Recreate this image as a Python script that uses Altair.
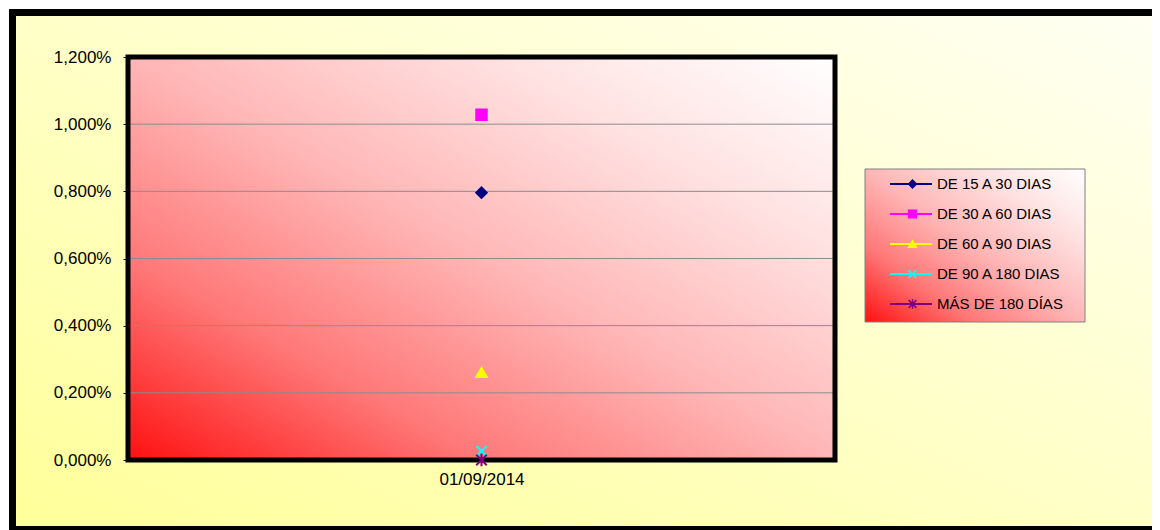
import altair as alt
import pandas as pd

# ---- data ----
SERIES = ["DE 15 A 30 DIAS", "DE 30 A 60 DIAS", "DE 60 A 90 DIAS", "DE 90 A 180 DIAS", "MÁS DE 180 DÍAS"]
VALUES = [0.00796, 0.01028, 0.00261, 0.00027, 0.0]
DATES = ["01/09/2014"] * 5
COLORS = ["#000080", "#FF00FF", "#FFFF00", "#00FFFF", "#800080"]
SHAPES = ["diamond", "square", "triangle-up",
          "M-1,-1L1,1M-1,1L1,-1",
          "M-1,-1L1,1M-1,1L1,-1M0,-1.2L0,1.2"]
Y_TICKS = [0.0, 0.002, 0.004, 0.006, 0.008, 0.010, 0.012]

W, H = 707, 403
FONT = "Liberation Sans"

df = pd.DataFrame({"fecha": DATES, "serie": SERIES, "serie2": SERIES, "valor": VALUES})
ticks_df = pd.DataFrame({"v": Y_TICKS})
one = pd.DataFrame({"a": [0]})


def grad(stops):
    return alt.LinearGradient(
        gradient="linear",
        stops=[alt.GradientStop(color=c, offset=o) for o, c in stops],
        x1=0, y1=1, x2=1, y2=0,
    )


RED_STOPS = [(0, "#FF1010"), (0.25, "#FF7878"), (0.5, "#FFB6B6"), (0.75, "#FFE0E0"), (1, "#FFFFFF")]
YELLOW_STOPS = [(0, "#FFFF99"), (0.5, "#FFFFC8"), (1, "#FFFFF4")]

yscale = alt.Scale(domain=[0, 0.012], nice=False)

# outer chart-area background with border
outer = alt.Chart(one).mark_rect(fill=grad(YELLOW_STOPS), stroke="black", strokeWidth=7).encode(
    x=alt.value(-115.5), x2=alt.value(1045), y=alt.value(-44.5), y2=alt.value(472.5)
)

# plot-area gradient
plotbg = alt.Chart(one).mark_rect(fill=grad(RED_STOPS)).encode(
    x=alt.value(0), x2=alt.value(W), y=alt.value(0), y2=alt.value(H)
)

grid = alt.Chart(ticks_df).mark_rule(color="#8C8C8C", strokeWidth=1).encode(
    y=alt.Y("v:Q", scale=yscale,
            axis=alt.Axis(values=Y_TICKS, grid=False, domain=False, ticks=True, tickSize=5,
                          tickColor="black", labelPadding=12, labelFont=FONT, labelFontSize=17,
                          labelColor="black", title=None, zindex=1,
                          labelExpr="replace(format(datum.value, '.3%'), '.', ',')")),
    x=alt.value(0), x2=alt.value(W),
)

border = alt.Chart(one).mark_rect(fill="transparent", stroke="black", strokeWidth=5).encode(
    x=alt.value(0), x2=alt.value(W), y=alt.value(0), y2=alt.value(H)
)

legend_box = alt.Chart(one).mark_rect(fill=grad(RED_STOPS), stroke="#808080", strokeWidth=1).encode(
    x=alt.value(737), x2=alt.value(957), y=alt.value(112), y2=alt.value(265)
)

xaxis = alt.Axis(title=None, labelAngle=0, domain=False, ticks=False, labelPadding=11,
                 labelFont=FONT, labelFontSize=17, labelColor="black", zindex=1)

# invisible lines (one point each) -> line legend with labels
lines = alt.Chart(df).mark_line(strokeWidth=2).encode(
    x=alt.X("fecha:N", axis=xaxis),
    y=alt.Y("valor:Q", scale=yscale),
    color=alt.Color("serie2:N", sort=SERIES, scale=alt.Scale(range=COLORS),
                    legend=alt.Legend(title=None, orient="none", legendX=761, legendY=112,
                                      symbolType="stroke", symbolSize=1764, symbolStrokeWidth=2,
                                      clipHeight=30, rowPadding=0, padding=0, labelOffset=4,
                                      labelFont=FONT, labelFontSize=15, labelColor="black")),
)

marker_legend = alt.Legend(title=None, orient="none", legendX=777, legendY=112,
                           symbolSize=60, symbolStrokeWidth=1.5, clipHeight=30, rowPadding=0,
                           padding=0, labelExpr="''", labelFontSize=15, labelFont=FONT)

points = alt.Chart(df).mark_point(filled=True, size=110, strokeWidth=2, opacity=1).encode(
    x=alt.X("fecha:N", axis=xaxis),
    y=alt.Y("valor:Q", scale=yscale),
    fill=alt.Fill("serie:N", scale=alt.Scale(domain=SERIES, range=COLORS), legend=marker_legend),
    stroke=alt.Stroke("serie:N", scale=alt.Scale(domain=SERIES, range=COLORS), legend=marker_legend),
    shape=alt.Shape("serie:N", scale=alt.Scale(domain=SERIES, range=SHAPES), legend=marker_legend),
)

chart = alt.layer(outer, plotbg, grid, border, legend_box, lines, points).properties(
    width=W, height=H,
    padding={"left": 120, "top": 49, "right": 317, "bottom": 70},
    autosize=alt.AutoSizeParams(type="none"),
).configure_view(strokeWidth=0).configure(background="white")

chart.save("out.html", embed_options={"renderer": "svg", "actions": False})
